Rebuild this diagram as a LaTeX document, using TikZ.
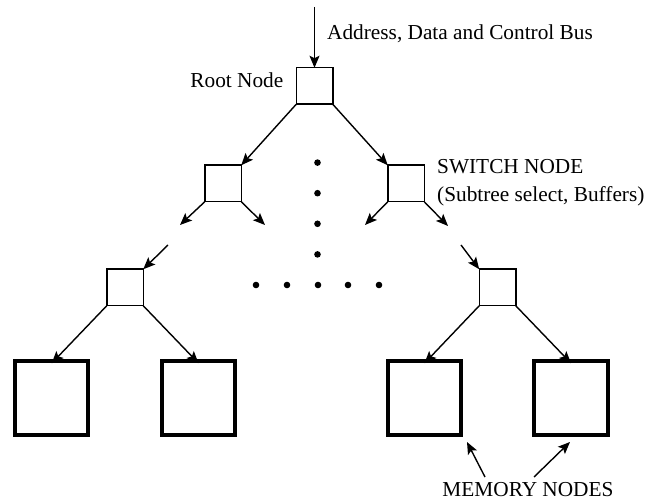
\documentclass[tikz,border=0pt]{standalone}
\usepackage{fontspec}
\setmainfont{Liberation Serif}
\usetikzlibrary{arrows.meta}
\begin{document}
\begin{tikzpicture}[x=1pt,y=-1pt,
  sw/.style={draw,line width=1.5pt,minimum size=36.5pt,inner sep=0pt,outer sep=0pt},
  mem/.style={draw,line width=4pt,minimum size=73.5pt,inner sep=0pt,outer sep=0pt},
  arr/.style={line width=1.4pt,-{Stealth[length=12pt,width=10pt,inset=2.5pt]}},
  lbl/.style={font=\fontsize{21.3}{25}\selectfont,inner sep=0pt},
  dot/.style={fill,circle,minimum size=6.6pt,inner sep=0pt}]
\useasboundingbox (0,0) rectangle (646,502);
% switch nodes
\node[sw] (root) at (314.5,86) {};
\node[sw] (l2l) at (223,183.5) {};
\node[sw] (l2r) at (406,183.5) {};
\node[sw] (l3l) at (125,287.5) {};
\node[sw] (l3r) at (497.5,287.5) {};
% memory nodes
\node[mem] (m1) at (51.7,398) {};
\node[mem] (m2) at (198.5,398) {};
\node[mem] (m3) at (424.5,398) {};
\node[mem] (m4) at (571,398) {};
% labels
\node[lbl,anchor=base west] (bus) at (327,40) {Address, Data and Control Bus};
\node[lbl,anchor=base east] (rootlbl) at (283.5,87.5) {Root Node};
\node[lbl,anchor=base west] (swlbl) at (437,174) {SWITCH NODE};
\node[lbl,anchor=base west] (swlbl2) at (437,202) {(Subtree select, Buffers)};
\node[lbl,anchor=base] (memlbl) at (528,496.5) {MEMORY NODES};
% dots
\foreach \y [count=\i] in {162.6,193.2,223.8,254.4} \node[dot] (v\i) at (317.5,\y) {};
\foreach \x [count=\i] in {256,287,318,348,379} \node[dot] (h\i) at (\x,285) {};
% free ends
\coordinate (top) at (314.5,7);
\coordinate (a1) at (180,225);
\coordinate (a2) at (265,225);
\coordinate (a3) at (168,245);
\coordinate (b1) at (365,225);
\coordinate (b2) at (448,226);
\coordinate (b3) at (461,245);
\coordinate (c1) at (485,477);
\coordinate (c1e) at (467,442);
\coordinate (c2) at (534,477);
\coordinate (c2e) at (570,442);
% connectors
\draw[arr] (top) -- (root.north);
\draw[arr] (root.south west) -- (l2l.north east);
\draw[arr] (root.south east) -- (l2r.north west);
\draw[arr] (l2l.south west) -- (a1);
\draw[arr] (l2l.south east) -- (a2);
\draw[arr] (a3) -- (l3l.north east);
\draw[arr] (l2r.south west) -- (b1);
\draw[arr] (l2r.south east) -- (b2);
\draw[arr] (b3) -- (l3r.north west);
\draw[arr] (l3l.south west) -- ([yshift=-2pt]m1.north);
\draw[arr] (l3l.south east) -- ([yshift=-2pt]m2.north);
\draw[arr] (l3r.south west) -- ([yshift=-2pt]m3.north);
\draw[arr] (l3r.south east) -- ([yshift=-2pt]m4.north);
\draw[arr] (c1) -- (c1e);
\draw[arr] (c2) -- (c2e);
\end{tikzpicture}
\end{document}
